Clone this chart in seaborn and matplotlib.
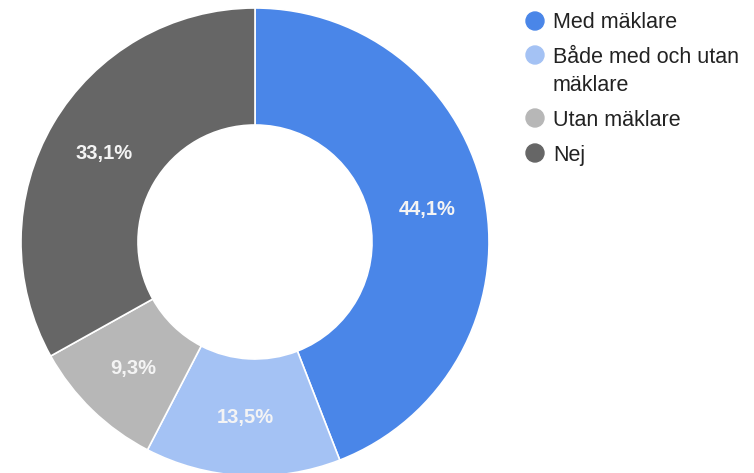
import matplotlib
matplotlib.use("Agg")
import matplotlib.pyplot as plt
from matplotlib.patches import Ellipse
import numpy as np
import seaborn as sns

# data
categories = ["Med mäklare", "Både med och utan\nmäklare", "Utan mäklare", "Nej"]
shares = [44.1, 13.5, 9.3, 33.1]
pct_labels = ["44,1%", "13,5%", "9,3%", "33,1%"]
colors = ["#4a86e8", "#a4c2f4", "#b7b7b7", "#666666"]

sns.set_theme(style="white")
plt.rcParams["font.family"] = ["Liberation Sans", "DejaVu Sans"]

W, H = 754, 473
fig = plt.figure(figsize=(W / 100, H / 100), dpi=100)

# donut: centre (255, 242) px, outer radius 234 px
cx, cy, r = 255, 242, 234
ax = fig.add_axes([(cx - r) / W, (H - cy - r) / H, 2 * r / W, 2 * r / H])
wedges, texts = ax.pie(shares, colors=colors, startangle=90, counterclock=False,
                       radius=1.0, wedgeprops=dict(width=0.5, edgecolor="white", linewidth=1.2))
for w in wedges:
    w.set_clip_on(False)

# percentage labels in the middle of the ring
ang0 = 90.0
for val, lab in zip(shares, pct_labels):
    mid = np.deg2rad(ang0 - val * 3.6 / 2)
    ax.text(0.75 * np.cos(mid), 0.75 * np.sin(mid), lab, color="#f4f4f4",
            fontsize=14.5, fontweight="bold", ha="center", va="center")
    ang0 -= val * 3.6
ax.set_xlim(-1, 1)
ax.set_ylim(-1, 1)
ax.set_aspect("equal")
ax.axis("off")

# legend drawn by hand: dot + text, first line aligned with the dot
dot_y = [21, 55, 118, 153]
for cat, col, yy in zip(categories, colors, dot_y):
    fig.patches.append(Ellipse((535 / W, 1 - yy / H), 18 / W, 18 / H, color=col,
                               transform=fig.transFigure, figure=fig))
    lines = cat.split("\n")
    for i, line in enumerate(lines):
        fig.text(553 / W, 1 - (yy + 7.5 + 28 * i) / H, line, fontsize=15.5,
                 color="#222222", ha="left", va="baseline")

fig.savefig("out.png", dpi=100)
